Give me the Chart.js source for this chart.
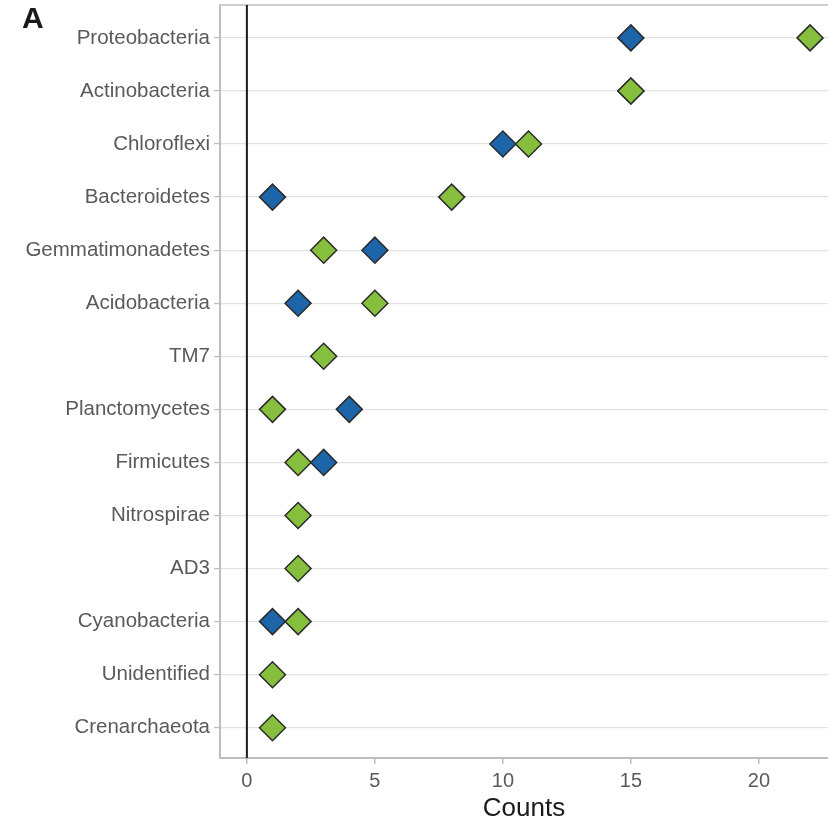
<!DOCTYPE html>
<html>
<head>
<meta charset="utf-8">
<script src="https://cdn.jsdelivr.net/npm/chart.js@4/dist/chart.umd.min.js"></script>
<style>
  html, body { margin: 0; padding: 0; background: #fff; }
  #wrap { width: 828px; height: 821px; position: relative; }
</style>
</head>
<body>
<div id="wrap"><canvas id="dotChart"></canvas></div>
<script>
const phyla = ['Proteobacteria', 'Actinobacteria', 'Chloroflexi', 'Bacteroidetes', 'Gemmatimonadetes',
    'Acidobacteria', 'TM7', 'Planctomycetes', 'Firmicutes', 'Nitrospirae', 'AD3', 'Cyanobacteria',
    'Unidentified', 'Crenarchaeota'];
const greenCounts = [22, 15, 11, 8, 3, 5, 3, 1, 2, 2, 2, 2, 1, 1];
const blueCounts = [15, 15, 10, 1, 5, 2, null, 4, 3, null, null, 1, null, null];
const xTicks = [0, 5, 10, 15, 20];

const FONT = '"Liberation Sans", Arial, sans-serif';

const extras = {
    id: 'extras',
    beforeDatasetsDraw(chart) {
        const ctx = chart.ctx;
        const area = chart.chartArea;
        const x0 = chart.scales.x.getPixelForValue(0);
        ctx.save();
        ctx.strokeStyle = '#cfcfcf';
        ctx.lineWidth = 2;
        ctx.beginPath();
        ctx.moveTo(area.left, area.top);
        ctx.lineTo(chart.width, area.top);
        ctx.stroke();
        ctx.strokeStyle = '#1a1a1a';
        ctx.lineWidth = 2;
        ctx.beginPath();
        ctx.moveTo(x0, area.top);
        ctx.lineTo(x0, area.bottom);
        ctx.stroke();
        ctx.restore();
    },
    afterDraw(chart) {
        const ctx = chart.ctx;
        ctx.save();
        ctx.fillStyle = '#1a1a1a';
        ctx.font = 'bold 30px ' + FONT;
        ctx.textBaseline = 'alphabetic';
        ctx.fillText('A', 22, 28);
        ctx.restore();
    }
};

function noPad(scale) {
    scale.paddingLeft = 0;
    scale.paddingRight = 0;
    scale.paddingTop = 0;
    scale.paddingBottom = 0;
}

function toPoints(values) {
    const pts = [];
    values.forEach((v, i) => {
        if (v !== null) pts.push({ x: v, y: i });
    });
    return pts;
}

function makeSet(label, values, color) {
    return {
        label: label,
        data: toPoints(values),
        showLine: false,
        pointStyle: 'rectRot',
        pointRadius: 13,
        pointHoverRadius: 13,
        backgroundColor: color,
        borderColor: '#2b2b2b',
        borderWidth: 1.5
    };
}

new Chart(document.getElementById('dotChart').getContext('2d'), {
    type: 'scatter',
    data: {
        datasets: [
            makeSet('Green', greenCounts, '#86bf3e'),
            makeSet('Blue', blueCounts, '#1c65a8')
        ]
    },
    options: {
        responsive: true,
        maintainAspectRatio: false,
        animation: false,
        clip: false,
        layout: { autoPadding: false, padding: { top: 5, right: 0, left: 0, bottom: 0 } },
        plugins: {
            legend: { display: false },
            tooltip: { enabled: false }
        },
        scales: {
            x: {
                type: 'linear',
                min: -1.05,
                max: 22.7,
                afterBuildTicks: scale => { scale.ticks = xTicks.map(v => ({ value: v })); },
                afterFit: scale => { scale.height = 63; noPad(scale); },
                grid: { drawOnChartArea: false, tickLength: 6, color: '#bdbdbd', lineWidth: 1.5 },
                border: { color: '#bdbdbd', width: 2 },
                ticks: {
                    color: '#5a5a5a',
                    font: { family: FONT, size: 20 },
                    padding: 5
                },
                title: {
                    display: true,
                    text: 'Counts',
                    color: '#1a1a1a',
                    font: { family: FONT, size: 26 },
                    padding: { top: 4, bottom: -3 }
                }
            },
            y: {
                type: 'linear',
                reverse: true,
                min: -0.62,
                max: 13.57,
                afterBuildTicks: scale => { scale.ticks = phyla.map((p, i) => ({ value: i })); },
                afterFit: scale => { scale.width = 220; noPad(scale); },
                grid: { color: '#e2e2e2', lineWidth: 1.2, tickLength: 6, tickColor: '#bdbdbd' },
                border: { color: '#bdbdbd', width: 2 },
                ticks: {
                    color: '#5a5a5a',
                    font: { family: FONT, size: 20.5 },
                    padding: 4,
                    callback: value => phyla[value]
                }
            }
        }
    },
    plugins: [extras]
});
</script>
</body>
</html>
